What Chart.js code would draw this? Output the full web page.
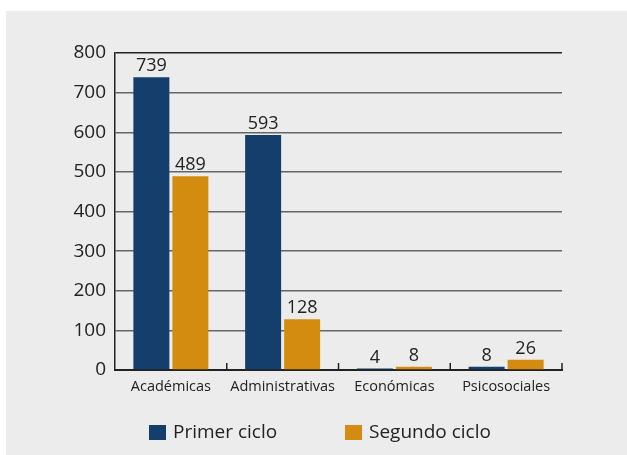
<!DOCTYPE html>
<html>
<head>
<meta charset="utf-8">
<script src="https://cdn.jsdelivr.net/npm/chart.js@4"></script>
<style>
  html, body { margin: 0; padding: 0; background: #ffffff; }
  #wrap { position: absolute; left: 6px; top: 11px; width: 621px; height: 444px; background: #ececec; }
</style>
</head>
<body>
<div id="wrap"><canvas id="myChart" width="621" height="444"></canvas></div>
<script>
const categories = ["Académicas", "Administrativas", "Económicas", "Psicosociales"];
const primerCiclo = [739, 593, 4, 8];
const segundoCiclo = [489, 128, 8, 26];
const seriesNames = ["Primer ciclo", "Segundo ciclo"];
const yTicks = [0, 100, 200, 300, 400, 500, 600, 700, 800];

const FONT = "'Open Sans', sans-serif";
const BLUE = "#143f6d";
const ORANGE = "#d48c10";

// value labels, category tick marks and legend
const extras = {
    id: "extras",
    afterDatasetsDraw(chart) {
        const ctx = chart.ctx;
        ctx.save();
        ctx.fillStyle = "#222";
        ctx.font = "18px " + FONT;
        ctx.textAlign = "center";
        ctx.textBaseline = "bottom";
        chart.data.datasets.forEach(function (ds, i) {
            chart.getDatasetMeta(i).data.forEach(function (bar, j) {
                ctx.fillText(String(ds.data[j]), bar.x, bar.y - 2);
            });
        });

        // small ticks between categories
        const x = chart.scales.x;
        const area = chart.chartArea;
        ctx.strokeStyle = "#222";
        ctx.lineWidth = 1.5;
        for (let i = 1; i <= categories.length; i++) {
            const px = x.left + (x.right - x.left) * i / categories.length;
            ctx.beginPath();
            ctx.moveTo(px, area.bottom);
            ctx.lineTo(px, area.bottom - 7);
            ctx.stroke();
        }

        // legend
        const items = [{ x: 143, label: seriesNames[0], color: BLUE }, { x: 339, label: seriesNames[1], color: ORANGE }];
        ctx.font = "19px " + FONT;
        ctx.textAlign = "left";
        ctx.textBaseline = "middle";
        items.forEach(function (it) {
            ctx.fillStyle = it.color;
            ctx.fillRect(it.x, 414, 17, 15);
            ctx.fillStyle = "#222";
            ctx.fillText(it.label, it.x + 24, 422);
        });
        ctx.restore();
    }
};

new Chart(document.getElementById("myChart"), {
    type: "bar",
    data: {
        labels: categories,
        datasets: [
            { label: seriesNames[0], data: primerCiclo, backgroundColor: BLUE },
            { label: seriesNames[1], data: segundoCiclo, backgroundColor: ORANGE }
        ]
    },
    options: {
        responsive: false,
        animation: false,
        layout: { padding: { top: 42, right: 65, left: 0, bottom: 0 } },
        datasets: {
            bar: { categoryPercentage: 0.698, barPercentage: 0.923 }
        },
        scales: {
            x: {
                grid: { display: false, drawTicks: false },
                border: { color: "#222", width: 2 },
                ticks: { color: "#222", font: { family: FONT, size: 14.5 }, padding: 8, maxRotation: 0 },
                afterFit: function (axis) { axis.height = 85; }
            },
            y: {
                min: 0,
                max: 800,
                afterBuildTicks: function (axis) { axis.ticks = yTicks.map(v => ({ value: v })); },
                grid: {
                    drawTicks: false,
                    lineWidth: 1.5,
                    color: function (c) { return c.tick.value === 800 ? "#222" : (c.tick.value === 0 ? "rgba(0,0,0,0)" : "#666"); }
                },
                border: { color: "#222", width: 1.5 },
                ticks: { color: "#222", font: { family: FONT, size: 19 }, padding: 9 },
                afterFit: function (axis) { axis.width = 109; }
            }
        },
        plugins: {
            legend: { display: false },
            tooltip: { enabled: false }
        }
    },
    plugins: [extras]
});
</script>
</body>
</html>
